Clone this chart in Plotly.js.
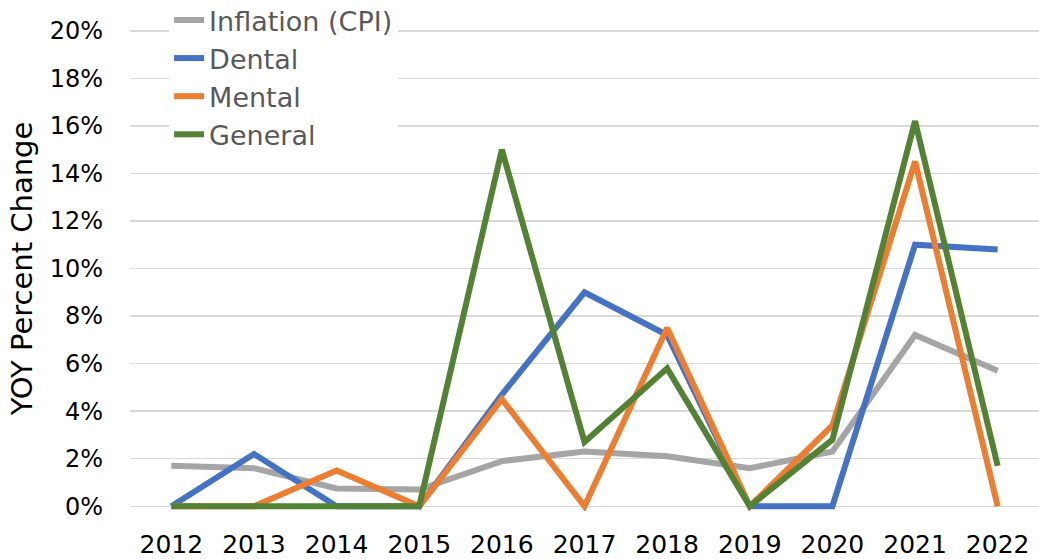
<!DOCTYPE html>
<html>
<head>
<meta charset="utf-8">
<script src="https://cdn.plot.ly/plotly-3.0.1.min.js"></script>
<style>
  html, body { margin: 0; padding: 0; background: #fff; }
  #chart { width: 1039px; height: 559px; }
</style>
</head>
<body>
<div id="chart"></div>
<script>
const years = ["2012", "2013", "2014", "2015", "2016", "2017", "2018", "2019", "2020", "2021", "2022"];

// YOY percent change
const inflation = [1.7, 1.6, 0.75, 0.7, 1.9, 2.3, 2.1, 1.6, 2.3, 7.2, 5.7];
const dental = [0, 2.2, 0, 0, 4.7, 9.0, 7.2, 0, 0, 11.0, 10.8];
const mental = [0, 0, 1.5, 0, 4.5, 0, 7.5, 0, 3.4, 14.5, 0];
const general = [0, 0, 0, 0, 15.0, 2.7, 5.8, 0, 2.8, 16.2, 1.7];

const font = "DejaVu Sans, sans-serif";

function series(name, y, color) {
  return {
    x: years,
    y: y,
    type: "scatter",
    mode: "lines",
    name: name,
    line: { color: color, width: 6 },
  };
}

const traces = [
  series("Inflation (CPI)", inflation, "#A5A5A5"),
  series("Dental", dental, "#4472C4"),
  series("Mental", mental, "#ED7D31"),
  series("General", general, "#548235"),
];

const layout = {
  width: 1039,
  height: 559,
  margin: { l: 130, r: 0, t: 26, b: 48, autoexpand: false },
  paper_bgcolor: "#ffffff",
  plot_bgcolor: "#ffffff",
  font: { family: font, size: 24, color: "#000000" },
  showlegend: true,
  legend: {
    x: 0.043,
    y: 1.062,
    xanchor: "left",
    yanchor: "top",
    bgcolor: "#ffffff",
    font: { family: font, size: 27, color: "#595959" },
    tracegroupgap: 0,
  },
  xaxis: {
    type: "category",
    range: [-0.5, 10.5],
    showgrid: false,
    zeroline: false,
    showline: false,
    ticks: "",
    ticklabelstandoff: 16,
    tickfont: { family: font, size: 25, color: "#000000" },
  },
  yaxis: {
    range: [-0.2, 20.2],
    dtick: 2,
    tick0: 0,
    ticksuffix: "%",
    showgrid: true,
    gridcolor: "#D9D9D9",
    gridwidth: 1.5,
    zeroline: false,
    showline: false,
    ticks: "",
    ticklabelstandoff: 26,
    tickfont: { family: font, size: 24, color: "#000000" },
    title: {
      text: "YOY Percent Change",
      font: { family: font, size: 29, color: "#000000" },
      standoff: 8,
    },
  },
};

Plotly.newPlot("chart", traces, layout, { displayModeBar: false, staticPlot: true });
</script>
</body>
</html>
